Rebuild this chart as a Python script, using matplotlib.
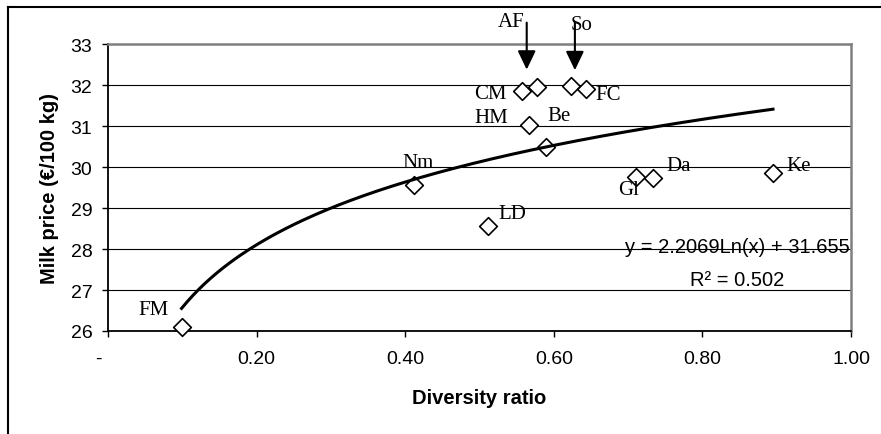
import numpy as np
import matplotlib
matplotlib.use("Agg")
import matplotlib.pyplot as plt
from matplotlib.lines import Line2D
from matplotlib.transforms import offset_copy, ScaledTranslation

# data
farms = ['FM', 'Nm', 'LD', 'CM', 'AF', 'So', 'FC', 'HM', 'Be', 'Gl', 'Da', 'Ke']
diversity = [0.099, 0.412, 0.512, 0.557, 0.577, 0.623, 0.643, 0.567, 0.589, 0.711, 0.733, 0.895]
milk_price = [26.10, 29.57, 28.57, 31.86, 31.96, 31.97, 31.90, 31.02, 30.48, 29.75, 29.73, 29.85]

# log trendline as printed on the chart
coef_a = 2.2069
coef_b = 31.655
r_squared = 0.502

x_ticks = [0, 0.2, 0.4, 0.6, 0.8, 1.0]
x_ticklabels = ['-', '0.20', '0.40', '0.60', '0.80', '1.00']
y_ticks = [26, 27, 28, 29, 30, 31, 32, 33]

# label placement (pixel offsets from each point)
label_offsets = {
    'FM': (-28, 17), 'Nm': (4, 22), 'LD': (24, 12), 'CM': (-31, -3),
    'FC': (22, -5), 'HM': (-38, 8), 'Be': (13, 32), 'Gl': (-8, -12),
    'Da': (26, 13), 'Ke': (26, 8),
}
# arrow farms: (label offset, arrow x offset, arrow top dy, arrow tip dy)
arrow_farms = {
    'AF': ((-26, 65), -10, 64, 17),
    'So': ((11, 62), 4, 64, 16),
}

sans = ['Liberation Sans', 'DejaVu Sans']
serif = ['Liberation Serif', 'DejaVu Serif']
plt.rcParams['font.family'] = sans

fig = plt.figure(figsize=(8.81, 4.35), dpi=100)
ax = fig.add_axes([108 / 881, 1 - 332 / 435, 743 / 881, 287 / 435])

ax.scatter(diversity, milk_price, marker='D', s=9.0 ** 2, facecolor='white',
           edgecolor='black', linewidth=1.2, zorder=3, clip_on=False)

xs = np.linspace(min(diversity), max(diversity), 200)
ax.plot(xs, coef_a * np.log(xs) + coef_b, color='black', lw=2.2, zorder=4)

for name, x, y in zip(farms, diversity, milk_price):
    if name in label_offsets:
        ax.annotate(name, (x, y), xytext=label_offsets[name], textcoords='offset pixels',
                    ha='center', va='center', fontsize=15, family=serif, zorder=5)
    if name in arrow_farms:
        (lx, ly), ax_dx, top_dy, tip_dy = arrow_farms[name]
        ax.annotate(name, (x, y), xytext=(lx, ly), textcoords='offset pixels',
                    ha='center', va='center', fontsize=15, family=serif,
                    annotation_clip=False)
        tip = offset_copy(ax.transData, fig, x=ax_dx, y=tip_dy, units='dots')
        top = offset_copy(ax.transData, fig, x=ax_dx, y=top_dy, units='dots')
        ax.annotate('', xy=(x, y), xycoords=tip, xytext=(x, y), textcoords=top,
                    arrowprops=dict(arrowstyle='-|>,head_length=1.15,head_width=0.55',
                                    mutation_scale=10, color='black', lw=1.5,
                                    shrinkA=0, shrinkB=0),
                    annotation_clip=False)

ax.text(0.8466, 0.295, f'y = {coef_a:.4f}Ln(x) + {coef_b:.3f}', transform=ax.transAxes,
        ha='center', va='center', fontsize=14.5)
ax.text(0.8466, 0.181, f'R² = {r_squared:.3f}', transform=ax.transAxes,
        ha='center', va='center', fontsize=14.5)

ax.set_xlim(0, 1.0)
ax.set_ylim(26, 33)
ax.set_xticks(x_ticks)
ax.set_xticklabels(x_ticklabels)
ax.set_yticks(y_ticks)
ax.tick_params(axis='both', direction='out', length=4.3, width=1, labelsize=14, color='black')
ax.tick_params(axis='x', pad=9.5)
ax.tick_params(axis='y', pad=7)
# dash for zero sits a little to the left
ax.get_xticklabels()[0].set_transform(ax.get_xticklabels()[0].get_transform() +
                                      ScaledTranslation(-10 / 100, 0, fig.dpi_scale_trans))

ax.yaxis.grid(True, color='black', lw=0.8)
ax.set_axisbelow(True)
for side in ['left', 'bottom']:
    ax.spines[side].set_color('black')
    ax.spines[side].set_linewidth(1.3)
for side in ['top', 'right']:
    ax.spines[side].set_color('#808080')
    ax.spines[side].set_linewidth(1.8)

ax.set_xlabel('Diversity ratio', fontsize=14.5, fontweight='bold', va='center')
ax.xaxis.set_label_coords(0.5, -0.23)
ax.set_ylabel('Milk price (€/100 kg)', fontsize=14.5, fontweight='bold', va='center')
ax.yaxis.set_label_coords(-0.079, 0.5)

# outer chart frame (cut off at right and bottom)
fig.add_artist(Line2D([8 / 881, 8 / 881], [0, 1 - 8 / 435], color='black', lw=1.5,
                      transform=fig.transFigure))
fig.add_artist(Line2D([8 / 881, 1], [1 - 8 / 435, 1 - 8 / 435], color='black', lw=1.5,
                      transform=fig.transFigure))

fig.savefig('out.png', dpi=100)
